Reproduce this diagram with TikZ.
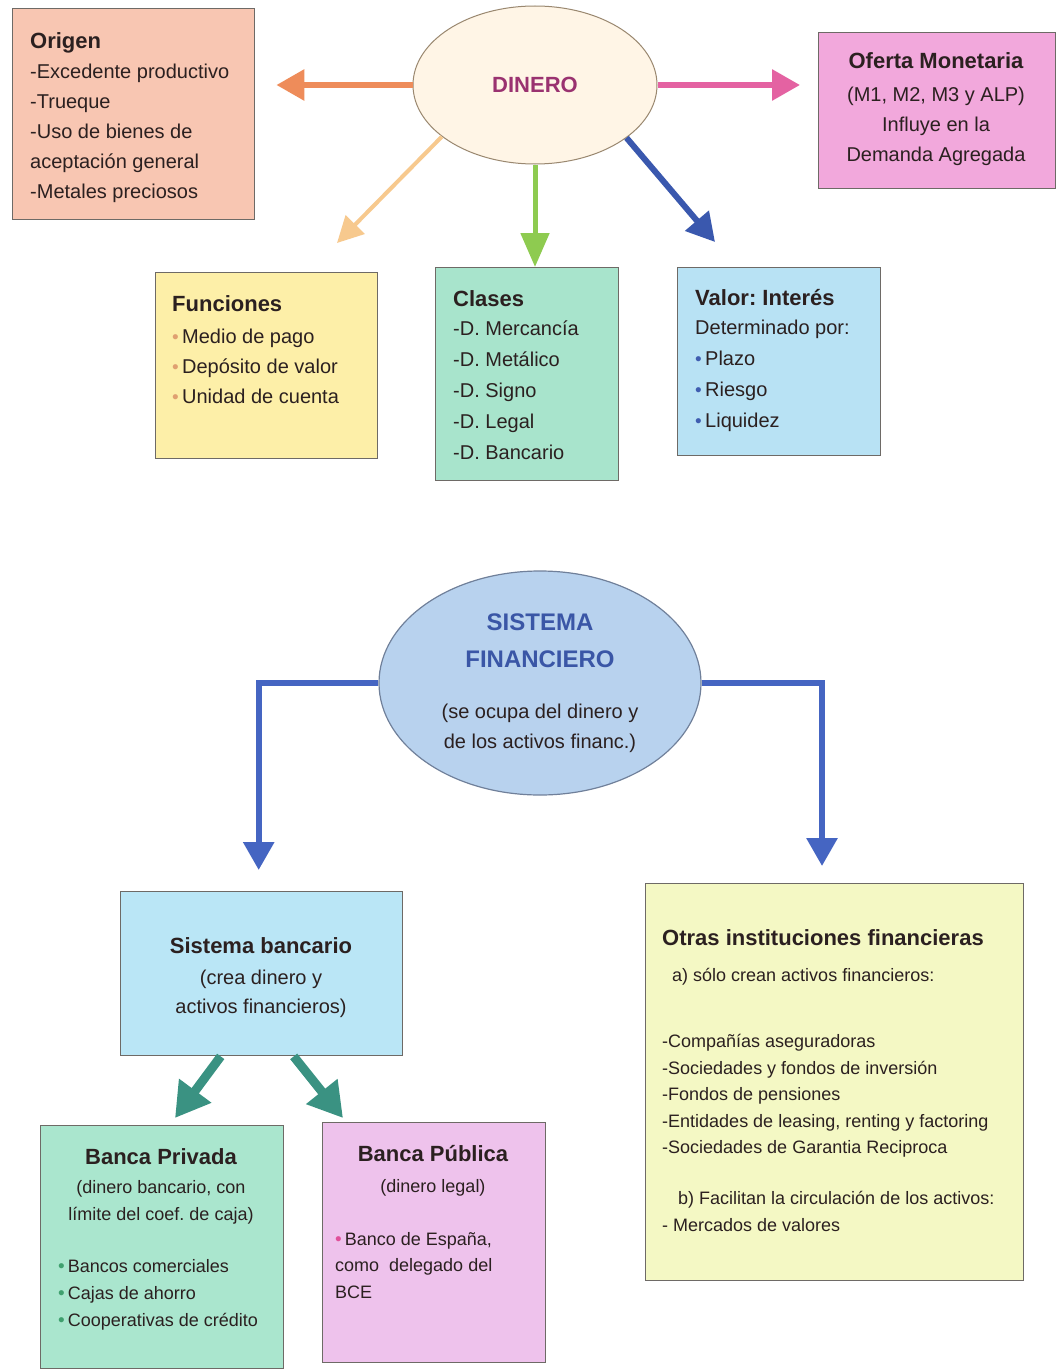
\documentclass[tikz,border=0pt]{standalone}
\usepackage{fontspec}
\setmainfont{Liberation Sans}
\usepackage{xcolor}
\usepackage{tikz}
\usetikzlibrary{shapes,arrows.meta,positioning,calc}
\frenchspacing

\definecolor{ink}{HTML}{2B2020}
\definecolor{boxline}{HTML}{6E6A66}
\definecolor{dinline}{HTML}{9A8870}
\definecolor{sfline}{HTML}{70809A}
\definecolor{origfill}{HTML}{F8C6B2}
\definecolor{ofertafill}{HTML}{F2A8DC}
\definecolor{funcfill}{HTML}{FDEFA8}
\definecolor{clasfill}{HTML}{A8E4CC}
\definecolor{valfill}{HTML}{B8E2F4}
\definecolor{dinfill}{HTML}{FFF5E6}
\definecolor{sffill}{HTML}{B8D2EE}
\definecolor{bancfill}{HTML}{BAE6F6}
\definecolor{privfill}{HTML}{AAE6CE}
\definecolor{pubfill}{HTML}{EEC2EC}
\definecolor{otrasfill}{HTML}{F4F8C4}
\definecolor{orangec}{HTML}{EE8C5A}
\definecolor{pinkc}{HTML}{E462A2}
\definecolor{peachc}{HTML}{F7C98E}
\definecolor{greenc}{HTML}{8ECB50}
\definecolor{bluec}{HTML}{3A58AE}
\definecolor{sfarr}{HTML}{4565C2}
\definecolor{tealc}{HTML}{3A9282}
\definecolor{dincol}{HTML}{9A3270}
\definecolor{sfblue}{HTML}{3A56A6}
\definecolor{fbul}{HTML}{E0A070}
\definecolor{vbul}{HTML}{3F5DB0}
\definecolor{prbul}{HTML}{3FA06E}
\definecolor{pbbul}{HTML}{E0509A}

\newcommand{\ttl}[1]{{\fontsize{22}{30}\selectfont\bfseries #1}}
\newcommand{\sft}[1]{{\fontsize{24}{30}\selectfont\bfseries\color{sfblue}#1}}
\newcommand{\bul}[1]{{\color{#1}\fontsize{19}{19}\selectfont\textbullet}\,}

\begin{document}
\begin{tikzpicture}[x=1pt,y=-1pt,
    box/.style={draw=boxline, line width=1.4pt, anchor=north west, inner sep=0pt},
    txt/.style={inner sep=0pt, anchor=north west, align=left, text=ink, font=\fontsize{20}{30}\selectfont},
    ctxt/.style={txt, anchor=north, align=center},
    arr/.style={line width=6pt, color=#1, -{Triangle[width=30pt,length=28pt]}}]
    \useasboundingbox (0,0) rectangle (1056,1370);
    \fill[white] (0,0) rectangle (1056,1370);

    % DINERO and its boxes
    \node[ellipse, draw=dinline, line width=1pt, fill=dinfill, minimum width=244pt, minimum height=158pt,
          inner sep=0pt, text=dincol, font=\fontsize{22}{26}\selectfont\bfseries] (dinero) at (535,85) {DINERO};

    \node[box, fill=origfill, minimum width=242pt, minimum height=211pt] (origen) at (12,8) {};
    \node[txt] (origent) at (30,32) {\ttl{Origen}\\ -Excedente productivo\\ -Trueque\\ -Uso de bienes de\\ aceptación general\\ -Metales preciosos};

    \node[box, fill=ofertafill, minimum width=237pt, minimum height=156pt] (oferta) at (818,32) {};
    \node[ctxt] (ofertat) at (936,52) {\ttl{Oferta Monetaria}\\[3pt] (M1, M2, M3 y ALP)\\ Influye en la\\ Demanda Agregada};

    \node[box, fill=funcfill, minimum width=222pt, minimum height=186pt] (funciones) at (155,272) {};
    \node[txt] (funcionest) at (172,295) {\ttl{Funciones}\\[2pt] \bul{fbul}Medio de pago\\ \bul{fbul}Depósito de valor\\ \bul{fbul}Unidad de cuenta};

    \node[box, fill=clasfill, minimum width=183pt, minimum height=213pt] (clases) at (435,267) {};
    \node[txt, font=\fontsize{20}{31}\selectfont] (clasest) at (453,290) {\ttl{Clases}\\[-2pt] -D. Mercancía\\ -D. Metálico\\ -D. Signo\\ -D. Legal\\ -D. Bancario};

    \node[box, fill=valfill, minimum width=203pt, minimum height=188pt] (valor) at (677,267) {};
    \node[txt, font=\fontsize{20}{31}\selectfont] (valort) at (695,289) {\ttl{Valor: Interés}\\[-2pt] Determinado por:\\ \bul{vbul}Plazo\\ \bul{vbul}Riesgo\\ \bul{vbul}Liquidez};

    \coordinate (ftip) at (337,243);
    \coordinate (vtip) at (715,242);
    \draw[arr=orangec, shorten >=21pt] (dinero.west) -- (dinero.west -| origen.east);
    \draw[arr=pinkc, shorten >=18pt] (dinero.east) -- (dinero.east -| oferta.west);
    \draw[arr=peachc, line width=4pt, -{Triangle[width=26pt,length=26pt]}] (dinero.209) -- (ftip);
    \draw[arr=greenc, line width=5pt, -{Triangle[width=28pt,length=34pt]}] (dinero.south) -- (dinero.south |- clases.north);
    \draw[arr=bluec] (dinero.-30) -- (vtip);

    % Sistema financiero
    \node[ellipse, draw=sfline, line width=1.2pt, fill=sffill, minimum width=322pt, minimum height=224pt,
          inner sep=0pt, align=center, text=ink, font=\fontsize{20}{30}\selectfont] (sf) at (540,683)
          {\sft{SISTEMA}\\[7pt] \sft{FINANCIERO}\\[21pt] (se ocupa del dinero y\\ de los activos financ.)};

    \node[box, fill=bancfill, minimum width=282pt, minimum height=164pt] (bancario) at (120,891) {};
    \node[ctxt] (bancariot) at (261,937) {\ttl{Sistema bancario}\\[1pt] (crea dinero y\\[-1pt] activos financieros)};

    \node[box, fill=otrasfill, minimum width=378pt, minimum height=397pt] (otras) at (645,883) {};
    \node[txt, font=\fontsize{18}{26.5}\selectfont] (otrast) at (662,929) {\ttl{Otras instituciones financieras}\\[9.5pt]
        \hspace{10pt}a) sólo crean activos financieros:\\[40pt]
        -Compañías aseguradoras\\ -Sociedades y fondos de inversión\\ -Fondos de pensiones\\
        -Entidades de leasing, renting y factoring\\ -Sociedades de Garantia Reciproca\\[24.5pt]
        \hspace{16pt}b) Facilitan la circulación de los activos:\\ - Mercados de valores};

    \node[box, fill=privfill, minimum width=243pt, minimum height=243pt] (privada) at (40,1125) {};
    \node[ctxt, font=\fontsize{18}{27}\selectfont] (privadat) at (161,1148) {\ttl{Banca Privada}\\[2pt] (dinero bancario, con\\ límite del coef. de caja)};
    \node[txt, font=\fontsize{18}{27}\selectfont] (privadal) at (58,1259) {\bul{prbul}Bancos comerciales\\ \bul{prbul}Cajas de ahorro\\ \bul{prbul}Cooperativas de crédito};

    \node[box, fill=pubfill, minimum width=223pt, minimum height=240pt] (publica) at (322,1122) {};
    \node[ctxt, font=\fontsize{18}{27}\selectfont] (publicat) at (433,1145) {\ttl{Banca Pública}\\[4pt] (dinero legal)};
    \node[txt, font=\fontsize{18}{26.5}\selectfont] (publical) at (335,1232) {\bul{pbbul}Banco de España,\\ como\ \ delegado del\\ BCE};

    % connectors
    \coordinate (rtip) at (822,866);
    \coordinate (ptip) at (175,1118);
    \coordinate (qtip) at (343,1118);
    \draw[arr=sfarr, shorten >=21pt] (sf.west) -| ([xshift=-3pt]bancario.north);
    \draw[arr=sfarr] (sf.east) -| (rtip);
    \draw[arr=tealc, line width=9pt, -{Triangle[width=38pt,length=34pt]}] ([xshift=-41pt]bancario.south) -- (ptip);
    \draw[arr=tealc, line width=9pt, -{Triangle[width=38pt,length=34pt]}] ([xshift=32pt]bancario.south) -- (qtip);
\end{tikzpicture}
\end{document}
